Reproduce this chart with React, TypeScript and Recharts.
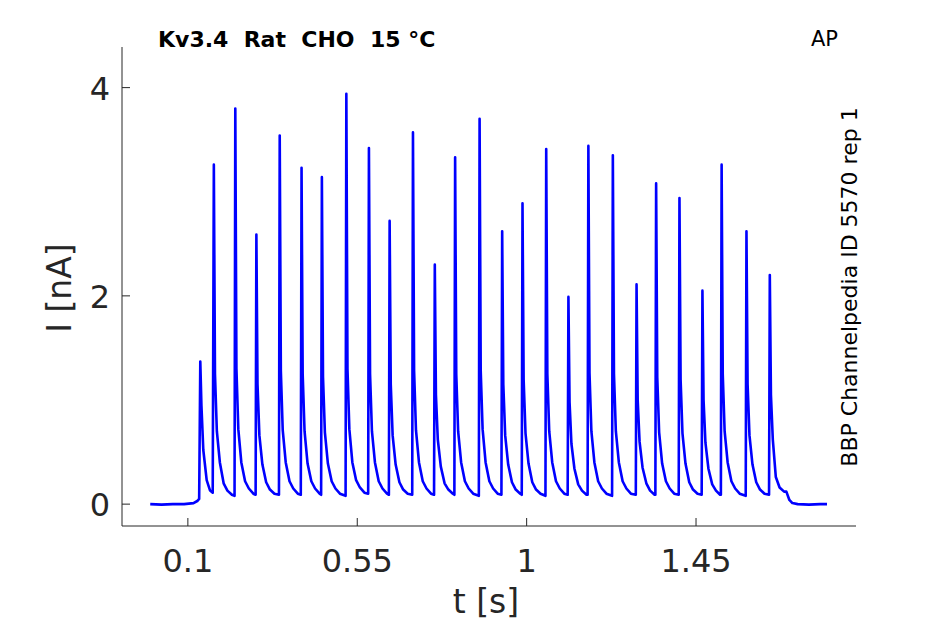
import React from 'react'
import { LineChart, Line, XAxis, YAxis } from 'recharts'

// recorded current trace, [t (s), I (nA)], one row per action-potential response
const trace: number[][] = [
    [0, 0], [0.03, -0.005], [0.06, 0.0], [0.09, 0.0], [0.115, 0.01], [0.125, 0.03], [0.130, 0.05],
    [0.133, 1.37], [0.136, 0.95], [0.141, 0.52], [0.150, 0.23], [0.159, 0.13], [0.166, 0.11],
    [0.169, 3.26], [0.172, 1.25], [0.177, 0.70], [0.185, 0.40], [0.195, 0.20], [0.205, 0.13], [0.217, 0.09], [0.224, 0.08],
    [0.226, 3.80], [0.229, 1.30], [0.234, 0.72], [0.242, 0.40], [0.252, 0.22], [0.262, 0.15], [0.274, 0.10], [0.280, 0.09],
    [0.282, 2.59], [0.285, 1.15], [0.290, 0.66], [0.298, 0.38], [0.308, 0.21], [0.318, 0.14], [0.330, 0.10], [0.342, 0.09],
    [0.344, 3.54], [0.347, 1.28], [0.352, 0.71], [0.360, 0.40], [0.370, 0.22], [0.380, 0.15], [0.392, 0.10], [0.400, 0.09],
    [0.402, 3.23], [0.405, 1.25], [0.410, 0.70], [0.418, 0.39], [0.428, 0.22], [0.438, 0.15], [0.450, 0.10], [0.454, 0.09],
    [0.456, 3.14], [0.459, 1.22], [0.464, 0.69], [0.472, 0.39], [0.482, 0.22], [0.492, 0.15], [0.504, 0.10], [0.519, 0.08],
    [0.521, 3.94], [0.524, 1.30], [0.529, 0.72], [0.537, 0.40], [0.547, 0.23], [0.557, 0.16], [0.569, 0.11], [0.579, 0.10],
    [0.581, 3.42], [0.584, 1.25], [0.589, 0.70], [0.597, 0.40], [0.607, 0.22], [0.617, 0.15], [0.629, 0.10], [0.634, 0.09],
    [0.636, 2.72], [0.639, 1.15], [0.644, 0.66], [0.652, 0.38], [0.662, 0.21], [0.672, 0.14], [0.684, 0.10], [0.696, 0.09],
    [0.698, 3.57], [0.701, 1.28], [0.706, 0.71], [0.714, 0.40], [0.724, 0.22], [0.734, 0.15], [0.746, 0.10], [0.754, 0.09],
    [0.756, 2.30], [0.759, 1.05], [0.764, 0.62], [0.772, 0.36], [0.782, 0.20], [0.792, 0.14], [0.804, 0.10], [0.808, 0.09],
    [0.810, 3.33], [0.813, 1.25], [0.818, 0.70], [0.826, 0.40], [0.836, 0.22], [0.846, 0.15], [0.858, 0.10], [0.873, 0.08],
    [0.875, 3.70], [0.878, 1.28], [0.883, 0.72], [0.891, 0.40], [0.901, 0.22], [0.911, 0.15], [0.923, 0.10], [0.933, 0.09],
    [0.935, 2.62], [0.938, 1.15], [0.943, 0.66], [0.951, 0.38], [0.961, 0.21], [0.971, 0.14], [0.983, 0.10], [0.987, 0.09],
    [0.989, 2.89], [0.992, 1.20], [0.997, 0.68], [1.005, 0.39], [1.015, 0.21], [1.025, 0.14], [1.037, 0.10], [1.050, 0.08],
    [1.052, 3.41], [1.055, 1.25], [1.060, 0.70], [1.068, 0.40], [1.078, 0.22], [1.088, 0.15], [1.100, 0.10], [1.109, 0.09],
    [1.111, 1.99], [1.114, 0.98], [1.119, 0.58], [1.127, 0.34], [1.137, 0.19], [1.147, 0.13], [1.159, 0.09], [1.162, 0.09],
    [1.164, 3.44], [1.167, 1.26], [1.172, 0.70], [1.180, 0.40], [1.190, 0.22], [1.200, 0.15], [1.212, 0.10], [1.227, 0.08],
    [1.229, 3.35], [1.232, 1.25], [1.237, 0.70], [1.245, 0.40], [1.255, 0.22], [1.265, 0.15], [1.277, 0.10], [1.290, 0.09],
    [1.292, 2.11], [1.295, 1.00], [1.300, 0.60], [1.308, 0.35], [1.318, 0.20], [1.328, 0.13], [1.340, 0.09], [1.342, 0.09],
    [1.344, 3.08], [1.347, 1.22], [1.352, 0.69], [1.360, 0.39], [1.370, 0.22], [1.380, 0.15], [1.392, 0.10], [1.404, 0.09],
    [1.406, 2.94], [1.409, 1.20], [1.414, 0.68], [1.422, 0.39], [1.432, 0.21], [1.442, 0.14], [1.454, 0.10], [1.465, 0.09],
    [1.467, 2.05], [1.470, 1.00], [1.475, 0.59], [1.483, 0.34], [1.493, 0.19], [1.503, 0.13], [1.514, 0.09], [1.516, 0.09],
    [1.518, 3.26], [1.521, 1.25], [1.526, 0.70], [1.534, 0.40], [1.544, 0.22], [1.554, 0.15], [1.566, 0.10], [1.582, 0.08],
    [1.584, 2.62], [1.587, 1.15], [1.592, 0.66], [1.600, 0.38], [1.610, 0.21], [1.620, 0.14], [1.632, 0.10], [1.644, 0.09],
    [1.646, 2.20], [1.649, 1.05], [1.654, 0.62], [1.662, 0.26], [1.672, 0.16], [1.684, 0.12], [1.690, 0.12], [1.698, 0.04],
    [1.706, 0.01], [1.72, 0.0], [1.75, -0.005], [1.78, 0.0], [1.798, 0.0],
]

const xTicks = [0.1, 0.55, 1, 1.45]
const yTicks = [0, 2, 4]
const title = 'Kv3.4  Rat  CHO  15 °C'
const protocol = 'AP'
const source = 'BBP Channelpedia ID 5570 rep 1'

const data = trace.map(([t, i]) => ({ t, i }))
const ink = '#262626'
const font = 'DejaVu Sans'

function XTick(props: any) {
    const { x, y, payload } = props
    return (
        <g>
            <line x1={x} y1={y} x2={x} y2={y - 8} stroke={ink} strokeWidth={1} />
            <text x={x} y={y + 46} textAnchor='middle' fill={ink} fontSize={32} fontFamily={font}>
                {payload.value}
            </text>
        </g>
    )
}

function YTick(props: any) {
    const { x, y, payload } = props
    return (
        <g>
            <line x1={x} y1={y} x2={x + 8} y2={y} stroke={ink} strokeWidth={1} />
            <text x={x - 12} y={y + 12} textAnchor='end' fill={ink} fontSize={32} fontFamily={font}>
                {payload.value}
            </text>
        </g>
    )
}

export default function App() {
    return (
        <div style={{ position: 'absolute', left: 0, top: 0 }}>
            <LineChart
                width={945}
                height={624}
                data={data}
                margin={{ top: 47, right: 89, left: 0, bottom: 0 }}
            >
                <XAxis
                    dataKey='t'
                    type='number'
                    domain={[-0.075, 1.875]}
                    ticks={xTicks}
                    height={98}
                    tickSize={0}
                    tickMargin={0}
                    tickLine={false}
                    axisLine={{ stroke: ink }}
                    tick={(p: any) => <XTick {...p} />}
                    interval={0}
                />
                <YAxis
                    type='number'
                    domain={[-0.21, 4.39]}
                    ticks={yTicks}
                    width={122}
                    tickSize={0}
                    tickMargin={0}
                    tickLine={false}
                    axisLine={{ stroke: ink }}
                    tick={(p: any) => <YTick {...p} />}
                    interval={0}
                />
                <Line
                    type='linear'
                    dataKey='i'
                    stroke='#0000ff'
                    strokeWidth={2.6}
                    strokeLinejoin='round'
                    dot={false}
                    isAnimationActive={false}
                />
                <text
                    x={158}
                    y={47}
                    fill='#000'
                    fontSize={22}
                    fontWeight='bold'
                    fontFamily={font}
                    style={{ whiteSpace: 'pre' }}
                >
                    {title}
                </text>
                <text x={811} y={46} fill='#000' fontSize={21} fontFamily={font}>
                    {protocol}
                </text>
                <text
                    x={857}
                    y={287}
                    transform='rotate(-90 857 287)'
                    textAnchor='middle'
                    fill='#000'
                    fontSize={22}
                    fontFamily={font}
                >
                    {source}
                </text>
                <text x={486} y={613} textAnchor='middle' fill={ink} fontSize={33} fontFamily={font}>
                    t [s]
                </text>
                <text
                    x={71}
                    y={288}
                    transform='rotate(-90 71 288)'
                    textAnchor='middle'
                    fill={ink}
                    fontSize={33}
                    fontFamily={font}
                >
                    I [nA]
                </text>
            </LineChart>
        </div>
    )
}
